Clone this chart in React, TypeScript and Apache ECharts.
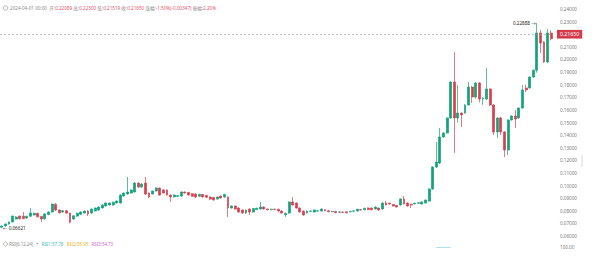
import React, { useEffect, useRef } from "react";
import * as echarts from "echarts";

// ---------- data ----------
const openPrices = [
  0.0670, 0.0680, 0.0695, 0.0711, 0.0735, 0.0758, 0.0757, 0.0742, 0.0757, 0.0767,
  0.0780, 0.0755, 0.0736, 0.0770, 0.0790, 0.0852, 0.0806, 0.0790, 0.0800, 0.0782,
  0.0735, 0.0758, 0.0772, 0.0782, 0.0798, 0.0782, 0.0798, 0.0806, 0.0822, 0.0838,
  0.0846, 0.0846, 0.0862, 0.0862, 0.0917, 0.0933, 0.0941, 0.0949, 0.1020, 0.0988,
  0.1020, 0.0941, 0.0933, 0.0957, 0.0980, 0.0965, 0.0965, 0.0925, 0.0910, 0.0914,
  0.0917, 0.0949, 0.0945, 0.0935, 0.0933, 0.0915, 0.0930, 0.0922, 0.0909, 0.0905,
  0.0893, 0.0917, 0.0909, 0.0909, 0.0822, 0.0838, 0.0822, 0.0806, 0.0782, 0.0814,
  0.0790, 0.0810, 0.0814, 0.0830, 0.0814, 0.0808, 0.0813, 0.0812, 0.0798, 0.0768,
  0.0782, 0.0870, 0.0862, 0.0822, 0.0798, 0.0782, 0.0796, 0.0790, 0.0798, 0.0798,
  0.0808, 0.0800, 0.0793, 0.0795, 0.0788, 0.0790, 0.0792, 0.0792, 0.0797, 0.0798,
  0.0808, 0.0808, 0.0822, 0.0822, 0.0814, 0.0822, 0.0814, 0.0862, 0.0860, 0.0850,
  0.0842, 0.0846, 0.0893, 0.0862, 0.0852, 0.0855, 0.0860, 0.0854, 0.0862, 0.0877,
  0.0973, 0.1147, 0.1179, 0.1385, 0.1417, 0.1536, 0.1821, 0.1536, 0.1575, 0.1575,
  0.1639, 0.1781, 0.1702, 0.1813, 0.1686, 0.1686, 0.1766, 0.1639, 0.1425, 0.1536,
  0.1425, 0.1282, 0.1520, 0.1552, 0.1536, 0.1615, 0.1774, 0.1774, 0.1861, 0.1915,
  0.2210, 0.2138, 0.1980, 0.22089,
];

const closePrices = [
  0.0679, 0.0695, 0.0711, 0.0758, 0.0750, 0.0737, 0.0738, 0.0757, 0.0782, 0.0780,
  0.0752, 0.0735, 0.0775, 0.0790, 0.0853, 0.0806, 0.0784, 0.0800, 0.0782, 0.0711,
  0.0760, 0.0780, 0.0790, 0.0798, 0.0775, 0.0814, 0.0822, 0.0830, 0.0846, 0.0862,
  0.0862, 0.0868, 0.0877, 0.0925, 0.0941, 0.0949, 0.0965, 0.1020, 0.0988, 0.1012,
  0.0933, 0.0910, 0.0957, 0.0980, 0.0925, 0.0941, 0.0925, 0.0910, 0.0925, 0.0920,
  0.0949, 0.0941, 0.0925, 0.0915, 0.0910, 0.0930, 0.0910, 0.0908, 0.0893, 0.0886,
  0.0909, 0.0901, 0.0930, 0.0822, 0.0838, 0.0814, 0.0790, 0.0782, 0.0806, 0.0790,
  0.0818, 0.0820, 0.0830, 0.0814, 0.0808, 0.0813, 0.0810, 0.0798, 0.0782, 0.0780,
  0.0870, 0.0846, 0.0822, 0.0790, 0.0766, 0.0798, 0.0798, 0.0806, 0.0800, 0.0814,
  0.0800, 0.0792, 0.0795, 0.0785, 0.0791, 0.0788, 0.0784, 0.0795, 0.0799, 0.0812,
  0.0806, 0.0820, 0.0810, 0.0808, 0.0830, 0.0806, 0.0862, 0.0846, 0.0854, 0.0838,
  0.0830, 0.0893, 0.0854, 0.0838, 0.0846, 0.0860, 0.0863, 0.0870, 0.0885, 0.0973,
  0.1147, 0.1187, 0.1385, 0.1417, 0.1536, 0.1821, 0.1536, 0.1575, 0.1560, 0.1639,
  0.1781, 0.1702, 0.1813, 0.1686, 0.1692, 0.1766, 0.1639, 0.1425, 0.1536, 0.1425,
  0.1282, 0.1520, 0.1552, 0.1528, 0.1615, 0.1758, 0.1758, 0.1861, 0.1915, 0.2210,
  0.2130, 0.1980, 0.2210, 0.2165,
];

const lowPrices = [
  0.06621, 0.0675, 0.0690, 0.0708, 0.0730, 0.0732, 0.0733, 0.0738, 0.0752, 0.0763,
  0.0748, 0.0712, 0.0730, 0.0765, 0.0785, 0.0800, 0.0778, 0.0786, 0.0778, 0.0700,
  0.0728, 0.0752, 0.0768, 0.0778, 0.0758, 0.0778, 0.0794, 0.0800, 0.0818, 0.0834,
  0.0842, 0.0840, 0.0858, 0.0858, 0.0912, 0.0928, 0.0936, 0.0945, 0.0982, 0.0984,
  0.0925, 0.0900, 0.0928, 0.0952, 0.0920, 0.0936, 0.0920, 0.0870, 0.0905, 0.0910,
  0.0912, 0.0936, 0.0920, 0.0910, 0.0900, 0.0910, 0.0905, 0.0900, 0.0885, 0.0880,
  0.0888, 0.0896, 0.0904, 0.0750, 0.0818, 0.0810, 0.0786, 0.0778, 0.0776, 0.0766,
  0.0786, 0.0806, 0.0810, 0.0810, 0.0804, 0.0804, 0.0806, 0.0794, 0.0778, 0.0752,
  0.0776, 0.0840, 0.0818, 0.0786, 0.0762, 0.0778, 0.0792, 0.0786, 0.0794, 0.0794,
  0.0796, 0.0788, 0.0788, 0.0781, 0.0784, 0.0784, 0.0780, 0.0788, 0.0793, 0.0794,
  0.0802, 0.0804, 0.0806, 0.0804, 0.0810, 0.0802, 0.0810, 0.0842, 0.0850, 0.0834,
  0.0826, 0.0842, 0.0850, 0.0834, 0.0822, 0.0850, 0.0856, 0.0850, 0.0858, 0.0872,
  0.0968, 0.1140, 0.1170, 0.1380, 0.1412, 0.1530, 0.1258, 0.1500, 0.1464, 0.1570,
  0.1634, 0.1655, 0.1690, 0.1660, 0.1640, 0.1680, 0.1630, 0.1400, 0.1378, 0.1400,
  0.1226, 0.1242, 0.1515, 0.1456, 0.1530, 0.1610, 0.1740, 0.1768, 0.1855, 0.1895,
  0.2051, 0.1972, 0.1972, 0.21519,
];

const highPrices = [
  0.0683, 0.0700, 0.0715, 0.0762, 0.0758, 0.0762, 0.0790, 0.0760, 0.0822, 0.0785,
  0.0783, 0.0758, 0.0780, 0.0795, 0.0858, 0.0860, 0.0810, 0.0806, 0.0808, 0.0785,
  0.0765, 0.0785, 0.0795, 0.0802, 0.0806, 0.0818, 0.0826, 0.0834, 0.0850, 0.0866,
  0.0866, 0.0872, 0.0882, 0.0930, 0.0945, 0.1068, 0.0970, 0.1028, 0.1025, 0.1018,
  0.1068, 0.0945, 0.0960, 0.0985, 0.0985, 0.0970, 0.0970, 0.0930, 0.0930, 0.0925,
  0.0953, 0.0953, 0.0950, 0.0940, 0.0938, 0.0935, 0.0933, 0.0926, 0.0913, 0.0909,
  0.0913, 0.0921, 0.0935, 0.0914, 0.0842, 0.0842, 0.0826, 0.0810, 0.0810, 0.0818,
  0.0822, 0.0824, 0.0870, 0.0834, 0.0818, 0.0816, 0.0816, 0.0816, 0.0802, 0.0784,
  0.0874, 0.0909, 0.0866, 0.0826, 0.0802, 0.0802, 0.0802, 0.0810, 0.0804, 0.0818,
  0.0812, 0.0804, 0.0798, 0.0798, 0.0794, 0.0794, 0.0796, 0.0798, 0.0803, 0.0816,
  0.0812, 0.0824, 0.0826, 0.0826, 0.0834, 0.0826, 0.0866, 0.0877, 0.0864, 0.0854,
  0.0846, 0.0898, 0.0917, 0.0866, 0.0856, 0.0864, 0.0866, 0.0874, 0.0890, 0.0978,
  0.1152, 0.1345, 0.1456, 0.1422, 0.1540, 0.1826, 0.2059, 0.1797, 0.1580, 0.1645,
  0.1821, 0.1790, 0.1820, 0.1820, 0.1700, 0.1932, 0.1770, 0.1645, 0.1540, 0.1545,
  0.1430, 0.1525, 0.1556, 0.1599, 0.1620, 0.1797, 0.1800, 0.1866, 0.1920, 0.22888,
  0.2234, 0.2145, 0.2241, 0.2230,
];

// RSI1 values that fall inside the visible strip of the lower pane
const rsiVisibleStart = 121;
const rsi1Visible = [96.8, 97.6, 97.9, 98.2, 97.2];

const priceTicks = { min: 0.06, max: 0.24, step: 0.01 };
const lastPrice = 0.2165;
const highMarkValue = 0.22888;
const lowMarkValue = 0.06621;

const headerDate = "2024-04-01 00:00";
const headerItems: [string, string][] = [
  ["开:", "0.22089"],
  ["高:", "0.22300"],
  ["低:", "0.21519"],
  ["收:", "0.21650"],
  ["涨幅:", "-1.50%(-0.00347)"],
  ["振幅:", "2.20%"],
];
const rsiLegend: [string, string][] = [
  ["RSI1:57.78", "a"],
  ["RSI2:55.95", "b"],
  ["RSI3:54.73", "c"],
];

// categories: one per candle, daily, ending on the header date
const categories: string[] = (() => {
  const out: string[] = [];
  const end = new Date(Date.UTC(2024, 3, 1));
  const n = openPrices.length;
  for (let i = 0; i < n; i++) {
    const d = new Date(end.getTime() - (n - 1 - i) * 86400000);
    out.push(d.toISOString().slice(0, 10));
  }
  return out;
})();

const UP = "#13a27a";
const DOWN = "#d8404f";
const FONT = "'Noto Sans', 'Noto Sans CJK SC', sans-serif";

export default function App() {
  const ref = useRef<HTMLDivElement>(null);

  useEffect(() => {
    if (!ref.current) return;
    const chart = echarts.init(ref.current, undefined, { renderer: "svg" });

    const candles = openPrices.map((o, i) => [o, closePrices[i], lowPrices[i], highPrices[i]]);
    const rsi1 = categories.map((_, i) => {
      const k = i - rsiVisibleStart;
      return k >= 0 && k < rsi1Visible.length ? rsi1Visible[k] : null;
    });
    const highIdx = highPrices.indexOf(highMarkValue);
    const lowIdx = lowPrices.indexOf(lowMarkValue);

    const headerText =
      "{g|" + headerDate + "  }" +
      headerItems.map(([k, v]) => "{g|" + k + "}{r|" + v + "}").join("{g| }");
    const rsiText =
      "{g|RSI(6,12,24)}{g|   }{k|•}{g|   }" +
      rsiLegend.map(([t, s]) => "{" + s + "|" + t + "}").join("{g|   }");

    const option: any = {
      animation: false,
      backgroundColor: "#ffffff",
      textStyle: { fontFamily: FONT },
      grid: [
        { left: 0, right: 47, top: 9, height: 227 },
        { left: 0, right: 47, top: 247, bottom: 0 },
      ],
      xAxis: [
        { type: "category", data: categories, gridIndex: 0, show: false, boundaryGap: true },
        { type: "category", data: categories, gridIndex: 1, show: false, boundaryGap: true },
      ],
      yAxis: [
        {
          type: "value",
          gridIndex: 0,
          position: "right",
          min: priceTicks.min,
          max: priceTicks.max,
          interval: priceTicks.step,
          splitLine: { show: false },
          axisLine: { show: false },
          axisTick: { show: false },
          axisLabel: {
            formatter: (v: number) => v.toFixed(5),
            fontSize: 4.6,
            color: "#7a7a7a",
            margin: 7,
            fontFamily: FONT,
          },
        },
        {
          type: "value",
          gridIndex: 1,
          position: "right",
          min: 0,
          max: 100,
          interval: 100,
          splitLine: { show: false },
          axisLine: { show: false },
          axisTick: { show: false },
          axisLabel: {
            showMinLabel: false,
            formatter: (v: number) => (v === 100 ? v.toFixed(2) : ""),
            fontSize: 4.6,
            color: "#7a7a7a",
            margin: 7,
            fontFamily: FONT,
          },
        },
      ],
      series: [
        {
          type: "candlestick",
          xAxisIndex: 0,
          yAxisIndex: 0,
          data: candles,
          barWidth: "66%",
          itemStyle: {
            color: UP,
            color0: DOWN,
            borderColor: UP,
            borderColor0: DOWN,
            borderWidth: 0.7,
          },
          markLine: {
            silent: true,
            symbol: ["none", "none"],
            lineStyle: { color: "#9a9a9a", type: [2, 2], width: 0.6 },
            label: {
              show: true,
              position: "end",
              distance: 4,
              formatter: () => lastPrice.toFixed(5),
              color: "#ffffff",
              backgroundColor: "#d63b4b",
              padding: [2, 3, 1.5, 3],
              fontSize: 5.2,
              fontFamily: FONT,
            },
            data: [{ yAxis: lastPrice }],
          },
          markPoint: {
            silent: true,
            symbol: "circle",
            symbolSize: 0.1,
            data: [
              {
                coord: [categories[highIdx], highMarkValue],
                label: {
                  show: true,
                  position: "left",
                  distance: 1,
                  formatter: highMarkValue.toFixed(5) + " →",
                  color: "#222",
                  fontSize: 4.6,
                  fontFamily: FONT,
                },
              },
              {
                coord: [categories[lowIdx], lowMarkValue],
                label: {
                  show: true,
                  position: "right",
                  distance: 1,
                  formatter: "← " + lowMarkValue.toFixed(5),
                  color: "#222",
                  fontSize: 4.6,
                  fontFamily: FONT,
                },
              },
            ],
          },
        },
        {
          type: "line",
          xAxisIndex: 1,
          yAxisIndex: 1,
          data: rsi1,
          symbol: "none",
          lineStyle: { color: "#8fd3e0", width: 0.8 },
        },
      ],
      graphic: [
        {
          type: "circle",
          shape: { cx: 5.5, cy: 8, r: 2.3 },
          style: { fill: "none", stroke: "#8a8a8a", lineWidth: 0.6 },
        },
        {
          type: "text",
          x: 10,
          y: 8,
          style: {
            text: headerText,
            verticalAlign: "middle",
            fontFamily: FONT,
            rich: {
              g: { fill: "#8a8a8a", fontSize: 4.6, fontFamily: FONT },
              r: { fill: "#e0566a", fontSize: 4.6, fontFamily: FONT },
            },
          },
        },
        {
          type: "circle",
          shape: { cx: 5.5, cy: 244, r: 2.0 },
          style: { fill: "none", stroke: "#8a8a8a", lineWidth: 0.6 },
        },
        {
          type: "text",
          x: 9,
          y: 244,
          style: {
            text: rsiText,
            verticalAlign: "middle",
            fontFamily: FONT,
            rich: {
              g: { fill: "#8a8a8a", fontSize: 4.4, fontFamily: FONT },
              k: { fill: "#555", fontSize: 4.4, fontFamily: FONT },
              a: { fill: "#3dbcb4", fontSize: 4.4, fontFamily: FONT },
              b: { fill: "#e9b126", fontSize: 4.4, fontFamily: FONT },
              c: { fill: "#d368c8", fontSize: 4.4, fontFamily: FONT },
            },
          },
        },
        {
          type: "line",
          shape: { x1: 582, y1: 155, x2: 582, y2: 167 },
          style: { stroke: "#d0d0d0", lineWidth: 0.8 },
        },
      ],
    };

    chart.setOption(option);
    return () => chart.dispose();
  }, []);

  return (
    <div
      ref={ref}
      style={{ position: "fixed", left: 0, top: 0, width: 600, height: 265, background: "#fff" }}
    />
  );
}
